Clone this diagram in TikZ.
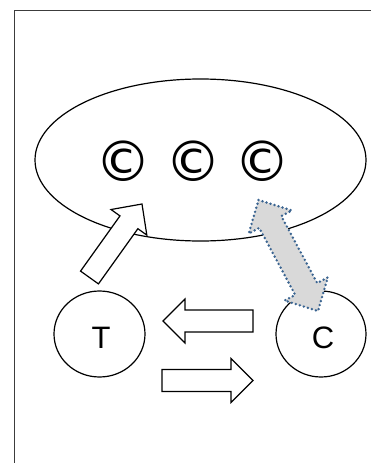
\documentclass[tikz,border=0pt]{standalone}
\usepackage{fontspec}
\setmainfont{Liberation Sans}
\newfontfamily\symfont{DejaVu Sans}
\usetikzlibrary{calc,shapes.geometric}
\definecolor{dotblue}{RGB}{58,100,145}
\definecolor{arrowgray}{RGB}{217,217,217}
\definecolor{framegray}{RGB}{60,60,60}

% block arrow: tail, tip, half shaft width, half head width, head length, style
\newcommand\blockarrow[6]{%
  \path ($(#2)!#5!(#1)$) coordinate (ba-h);
  \draw[#6] ($(#1)!#3!90:(#2)$) -- ($(ba-h)!#3!90:(#2)$) -- ($(ba-h)!#4!90:(#2)$)
    -- (#2) -- ($(ba-h)!#4!-90:(#2)$) -- ($(ba-h)!#3!-90:(#2)$)
    -- ($(#1)!#3!-90:(#2)$) -- cycle;
}
% double block arrow: tip one, tip two, half shaft width, half head width, head length, style
\newcommand\doubleblockarrow[6]{%
  \path ($(#1)!#5!(#2)$) coordinate (da-a) ($(#2)!#5!(#1)$) coordinate (da-b);
  \draw[#6] (#1) -- ($(da-a)!#4!90:(#2)$) -- ($(da-a)!#3!90:(#2)$)
    -- ($(da-b)!#3!-90:(#1)$) -- ($(da-b)!#4!-90:(#1)$) -- (#2)
    -- ($(da-b)!#4!90:(#1)$) -- ($(da-b)!#3!90:(#1)$)
    -- ($(da-a)!#3!-90:(#2)$) -- ($(da-a)!#4!-90:(#2)$) -- cycle;
}

\begin{document}
\begin{tikzpicture}[x=1pt,y=-1pt,
  outline/.style={draw=black,line width=1.2pt},
  whitearrow/.style={outline,fill=white,line join=miter},
  grayarrow/.style={fill=arrowgray,draw=dotblue,line width=2.7pt,
    line cap=round,dash pattern=on 0pt off 4.2pt},
  blob/.style={ellipse,outline,inner sep=0pt},
  cmark/.style={font=\symfont\fontsize{56}{56}\selectfont,inner sep=0pt},
  letter/.style={font=\fontsize{31}{31}\selectfont,inner sep=0pt}
]
\useasboundingbox (0,0) rectangle (371,463);

% page frame (only its left and top edges are in view)
\draw[framegray,line width=1.5pt] (14.5,463) -- (14.5,10.5) -- (371,10.5);

% the large pool and the two small parties
\node[blob,minimum width=331,minimum height=162] (pool) at (200.5,160) {};
\node[blob,minimum width=91,minimum height=86] (T) at (99.5,334) {};
\node[blob,minimum width=90,minimum height=86] (C) at (321,334) {};
\node[letter] at (101,338) {T};
\node[letter] at (323,338) {C};

% copyright marks in the pool
\node[cmark] (c1) at (123,161) {©};
\node[cmark] (c2) at (193,161) {©};
\node[cmark] (c3) at (262,161) {©};

% arrow from T into the pool
\coordinate (upTail) at (89.5,277.5);
\coordinate (upTip) at (142,204);
\blockarrow{upTail}{upTip}{11pt}{22pt}{22.5pt}{whitearrow}

% arrows between T and C
\coordinate (leftTail) at (253,321);
\coordinate (leftTip) at (163,321);
\blockarrow{leftTail}{leftTip}{11pt}{22pt}{22pt}{whitearrow}
\coordinate (rightTail) at (162,380.5);
\coordinate (rightTip) at (253,380.5);
\blockarrow{rightTail}{rightTip}{11pt}{22pt}{22pt}{whitearrow}

% two-way exchange between the pool and C
\coordinate (exTop) at (258.5,200);
\coordinate (exBottom) at (318,311);
\doubleblockarrow{exTop}{exBottom}{12.5pt}{24.5pt}{25pt}{grayarrow}
\end{tikzpicture}
\end{document}
